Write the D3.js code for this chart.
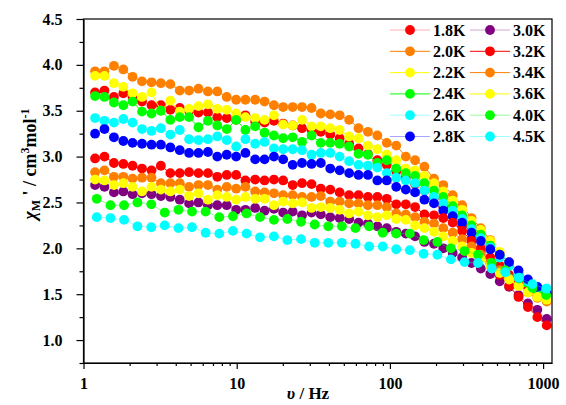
<!DOCTYPE html>
<html>
<head>
<meta charset="utf-8">
<script src="https://cdn.jsdelivr.net/npm/d3@7"></script>
<style>
  html, body { margin: 0; padding: 0; background: #fff; }
  svg { display: block; }
  text { font-family: "Liberation Serif", "Times New Roman", serif; }
</style>
</head>
<body>
<svg id="chart" width="566" height="405"></svg>
<script>
// ---- data ----
const freqA = [1.19,1.37,1.58,1.82,2.09,2.41,2.78,3.20,3.69,4.25,4.89,5.63,6.49,7.47,8.61,9.92,11.4,13.2,15.2,17.5,20.1,23.2,26.7,30.8,35.4,40.8,47.0,54.2,62.4,71.9,82.8,95.4,110,127,146,168,194,223,257,296,341,392,452,521,600,691,796,917,1056];
const freqB = [1.22,1.50,1.84,2.25,2.77,3.39,4.17,5.11,6.27,7.70,9.45,11.6,14.2,17.5,21.4,26.3,32.3,39.6,48.6,59.6,73.2,89.8,110,135,166,204,250,307,376,462,567,695,853,1047];

const chi18 = [3.70,3.72,3.65,3.69,3.65,3.60,3.56,3.56,3.51,3.53,3.50,3.48,3.48,3.43,3.42,3.40,3.45,3.38,3.37,3.39,3.36,3.34,3.31,3.29,3.27,3.24,3.20,3.14,3.09,3.03,2.96,2.91,2.84,2.77,2.70,2.63,2.55,2.45,2.35,2.24,2.10,2.00,1.90,1.81,1.71,1.62,1.55,1.49,1.45];
const chi20 = [3.93,3.93,3.99,3.95,3.87,3.82,3.81,3.80,3.79,3.72,3.72,3.74,3.71,3.71,3.65,3.62,3.62,3.62,3.60,3.56,3.54,3.54,3.54,3.53,3.47,3.46,3.45,3.40,3.31,3.27,3.23,3.15,3.12,3.00,2.96,2.89,2.76,2.69,2.58,2.47,2.33,2.22,2.09,1.95,1.85,1.73,1.63,1.52,1.44];
const chi22 = [3.88,3.88,3.80,3.76,3.69,3.65,3.70,3.50,3.61,3.49,3.52,3.55,3.57,3.52,3.51,3.47,3.43,3.42,3.40,3.45,3.35,3.34,3.40,3.33,3.33,3.31,3.29,3.22,3.20,3.12,3.08,3.02,2.96,2.87,2.85,2.79,2.71,2.62,2.52,2.42,2.30,2.20,2.08,1.96,1.84,1.74,1.64,1.55,1.47];
const chi24 = [3.66,3.65,3.59,3.56,3.60,3.49,3.47,3.50,3.40,3.43,3.43,3.32,3.39,3.34,3.30,3.40,3.29,3.33,3.26,3.23,3.20,3.21,3.16,3.23,3.15,3.15,3.14,3.11,3.03,3.02,2.93,2.96,2.87,2.82,2.79,2.71,2.63,2.56,2.46,2.36,2.25,2.15,2.03,1.92,1.82,1.71,1.62,1.54,1.48];
const chi26 = [3.42,3.39,3.37,3.41,3.37,3.30,3.28,3.31,3.24,3.29,3.19,3.18,3.19,3.22,3.18,3.11,3.19,3.14,3.16,3.09,3.08,3.08,3.07,3.02,3.04,3.04,3.00,2.95,2.91,2.90,2.88,2.82,2.77,2.74,2.71,2.63,2.56,2.49,2.41,2.32,2.21,2.11,2.01,1.90,1.81,1.72,1.64,1.58,1.56];
const chi28 = [3.25,3.30,3.21,3.17,3.15,3.14,3.13,3.13,3.10,3.07,3.04,3.04,3.05,3.00,3.02,3.00,3.04,2.97,2.97,3.00,2.97,2.91,2.93,2.92,2.93,2.87,2.85,2.82,2.80,2.80,2.74,2.74,2.67,2.64,2.61,2.53,2.49,2.41,2.35,2.28,2.17,2.08,1.99,1.93,1.85,1.76,1.66,1.58,1.51];
const chi30 = [2.69,2.67,2.61,2.62,2.59,2.60,2.59,2.57,2.56,2.53,2.49,2.50,2.47,2.47,2.47,2.42,2.42,2.44,2.41,2.43,2.39,2.40,2.36,2.39,2.37,2.34,2.33,2.32,2.28,2.27,2.24,2.22,2.18,2.16,2.13,2.07,2.05,2.00,1.95,1.90,1.84,1.78,1.72,1.64,1.58,1.49,1.40,1.33,1.23];
const chi32 = [2.98,3.00,2.93,2.92,2.90,2.87,2.85,2.90,2.82,2.82,2.83,2.82,2.82,2.78,2.80,2.80,2.74,2.75,2.74,2.75,2.74,2.69,2.71,2.70,2.65,2.64,2.61,2.58,2.58,2.56,2.56,2.54,2.48,2.48,2.45,2.37,2.36,2.33,2.28,2.19,2.08,1.97,1.84,1.71,1.59,1.47,1.36,1.25,1.16];
const chi34 = [2.83,2.85,2.78,2.78,2.76,2.77,2.77,2.71,2.71,2.71,2.67,2.69,2.69,2.64,2.67,2.65,2.67,2.62,2.61,2.60,2.58,2.58,2.56,2.56,2.57,2.51,2.51,2.49,2.49,2.47,2.47,2.45,2.38,2.37,2.34,2.29,2.27,2.22,2.17,2.10,2.02,1.93,1.84,1.76,1.67,1.59,1.52,1.46,1.42];
const chi36 = [2.75,2.74,2.69,2.71,2.67,2.62,2.67,2.64,2.62,2.64,2.57,2.60,2.53,2.58,2.56,2.53,2.56,2.54,2.54,2.47,2.51,2.49,2.50,2.44,2.45,2.44,2.42,2.38,2.40,2.36,2.34,2.36,2.32,2.31,2.25,2.22,2.18,2.13,2.08,2.02,1.95,1.88,1.81,1.73,1.66,1.59,1.52,1.47,1.44];
const chi40 = [2.54,2.47,2.47,2.50,2.48,2.39,2.42,2.40,2.40,2.34,2.35,2.38,2.34,2.31,2.32,2.29,2.26,2.24,2.24,2.22,2.24,2.17,2.16,2.16,2.09,2.07,2.00,1.97,1.93,1.84,1.76,1.67,1.57,1.49];
const chi45 = [2.34,2.33,2.31,2.24,2.23,2.25,2.22,2.23,2.17,2.16,2.19,2.16,2.12,2.13,2.09,2.10,2.06,2.06,2.06,2.05,2.02,2.02,1.99,1.98,1.94,1.93,1.88,1.85,1.84,1.78,1.74,1.68,1.61,1.56];

const temps = ["1.8K","2.0K","2.2K","2.4K","2.6K","2.8K","3.0K","3.2K","3.4K","3.6K","4.0K","4.5K"];
const valueSets = [chi18,chi20,chi22,chi24,chi26,chi28,chi30,chi32,chi34,chi36,chi40,chi45];
const freqSets = [freqA,freqA,freqA,freqA,freqA,freqA,freqA,freqA,freqA,freqA,freqB,freqB];
const colors = ["#FF0000","#FF8000","#FFFF00","#00FF00","#00FFFF","#0000FF","#800080","#FF0000","#FF8000","#FFFF00","#00FF00","#00FFFF"];
const lineOpacity = [0.3,1,1,1,0.35,0.35,0.35,1,1,1,0.4,0.4];

const xTicks = [1,10,100,1000];
const yTicks = [1.0,1.5,2.0,2.5,3.0,3.5,4.0,4.5];

// ---- layout ----
const svg = d3.select("#chart");
const L = 83.5, R = 552, T = 19, B = 363;
const x = d3.scaleLog().domain([1, 1143]).range([L, R]);
const y = d3.scaleLinear().domain([0.75, 4.5]).range([B, T]);

const series = temps.map((t,i) => ({
  name: t, color: colors[i], op: lineOpacity[i],
  pts: freqSets[i].map((f,k) => ({f, v: valueSets[i][k]}))
}));

// data
const line = d3.line().x(d => x(d.f)).y(d => y(d.v));
const g = svg.append("g");
series.forEach(s => {
  g.append("path").attr("d", line(s.pts)).attr("fill","none")
    .attr("stroke", s.color).attr("stroke-opacity", s.op).attr("stroke-width", 1);
  g.selectAll(null).data(s.pts).enter().append("circle")
    .attr("cx", d => x(d.f)).attr("cy", d => y(d.v)).attr("r", 4.9)
    .attr("fill", s.color);
});

// axes
const font = "Liberation Serif";
const xMinor = [];
[1,10,100].forEach(d => { for (let k=2;k<=9;k++) xMinor.push(d*k); });
const yMinor = d3.range(0.75, 4.5, 0.5);

svg.append("g").attr("transform", `translate(0,${B})`)
  .call(d3.axisBottom(x).tickValues(xTicks).tickFormat(d3.format("d")).tickSize(6).tickSizeOuter(0).tickPadding(9));
svg.append("g").attr("transform", `translate(0,${B})`)
  .call(d3.axisBottom(x).tickValues(xMinor).tickFormat("").tickSize(3).tickSizeOuter(0))
  .select(".domain").remove();
svg.append("g").attr("transform", `translate(${L},0)`)
  .call(d3.axisLeft(y).tickValues(yTicks).tickFormat(d3.format(".1f")).tickSize(7).tickSizeOuter(0).tickPadding(14));
svg.append("g").attr("transform", `translate(${L},0)`)
  .call(d3.axisLeft(y).tickValues(yMinor).tickFormat("").tickSize(4).tickSizeOuter(0))
  .select(".domain").remove();

svg.selectAll(".tick line").attr("stroke","#000").attr("stroke-width",1.2);
svg.selectAll(".domain").attr("stroke","#000").attr("stroke-width",1.2);
svg.selectAll(".tick text").attr("font-family", font).attr("font-weight","bold")
  .attr("font-size", 16).attr("fill","#000");

// frame
svg.append("rect").attr("x", L).attr("y", T).attr("width", R-L).attr("height", B-T)
  .attr("fill","none").attr("stroke","#000").attr("stroke-width",1.2);

// legend
const leg = svg.append("g");
series.forEach((s,i) => {
  const col = i < 6 ? 0 : 1, row = i % 6;
  const lx = col === 0 ? 390 : 470, ly = 30 + row*21.3;
  leg.append("line").attr("x1", lx).attr("x2", lx+40).attr("y1", ly).attr("y2", ly)
    .attr("stroke", s.color).attr("stroke-opacity", s.op).attr("stroke-width", 1);
  leg.append("circle").attr("cx", lx+20).attr("cy", ly).attr("r", 4.9).attr("fill", s.color);
  leg.append("text").attr("x", lx+43).attr("y", ly+5.5)
    .attr("font-family", font).attr("font-weight","bold").attr("font-size", 16)
    .text(s.name);
});

// axis titles
const xt = svg.append("text").attr("x", 308).attr("y", 399).attr("text-anchor","middle")
  .attr("font-family", font).attr("font-weight","bold").attr("font-size", 17);
xt.append("tspan").attr("font-style","italic").text("υ");
xt.append("tspan").text(" / Hz");

const yt = svg.append("text").attr("transform","translate(36,164) rotate(-90)").attr("text-anchor","middle")
  .attr("font-family", font).attr("font-weight","bold").attr("font-size", 18);
yt.append("tspan").attr("font-style","italic").text("χ");
yt.append("tspan").attr("font-size", 12).attr("dy", 4).text("M");
yt.append("tspan").attr("dy", -4).text(" ' / cm");
yt.append("tspan").attr("font-size", 12).attr("dy", -7).text("3");
yt.append("tspan").attr("dy", 7).text("mol");
yt.append("tspan").attr("font-size", 12).attr("dy", -7).text("-1");
</script>
</body>
</html>
